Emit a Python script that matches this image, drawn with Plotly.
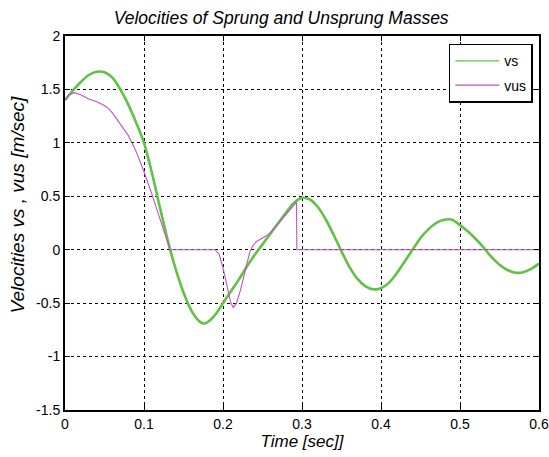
import plotly.graph_objects as go

# Sprung-mass velocity vs (m/s) over time (s)
t_vs = [0.00, 0.01, 0.02, 0.03, 0.04, 0.05, 0.06, 0.07, 0.08, 0.09,
        0.10, 0.11, 0.12, 0.13, 0.14, 0.15, 0.16, 0.17, 0.175, 0.18,
        0.19, 0.20, 0.21, 0.22, 0.23, 0.24, 0.25, 0.26, 0.27, 0.28,
        0.29, 0.30, 0.31, 0.32, 0.33, 0.34, 0.35, 0.36, 0.37, 0.38,
        0.39, 0.40, 0.41, 0.42, 0.43, 0.44, 0.45, 0.46, 0.47, 0.48,
        0.49, 0.50, 0.51, 0.52, 0.53, 0.54, 0.55, 0.56, 0.57, 0.58,
        0.59, 0.60]
vs = [1.40, 1.49, 1.57, 1.635, 1.665, 1.66, 1.61, 1.50, 1.36, 1.19,
      1.00, 0.72, 0.40, 0.09, -0.18, -0.40, -0.57, -0.67, -0.69, -0.68,
      -0.61, -0.50, -0.39, -0.28, -0.16, -0.05, 0.05, 0.15, 0.25, 0.35,
      0.44, 0.485, 0.47, 0.40, 0.285, 0.14, -0.015, -0.16, -0.27, -0.34,
      -0.37, -0.36, -0.31, -0.22, -0.11, 0.00, 0.11, 0.19, 0.25, 0.28,
      0.28, 0.23, 0.17, 0.10, 0.02, -0.07, -0.14, -0.19, -0.215, -0.21,
      -0.18, -0.13]

# Unsprung-mass velocity vus (m/s) over time (s)
t_vus = [0.000, 0.005, 0.012, 0.020, 0.030, 0.040, 0.050, 0.055, 0.060, 0.070,
         0.080, 0.090, 0.100, 0.110, 0.120, 0.128, 0.133, 0.190, 0.195, 0.200,
         0.205, 0.210, 0.213, 0.217, 0.222, 0.228, 0.234, 0.238, 0.243, 0.250,
         0.255, 0.260, 0.270, 0.280, 0.290, 0.293, 0.2935, 0.600]
vus = [1.40, 1.45, 1.47, 1.45, 1.41, 1.385, 1.35, 1.32, 1.28, 1.18,
       1.07, 0.92, 0.73, 0.52, 0.30, 0.12, 0.00, 0.00, -0.04, -0.17,
       -0.35, -0.50, -0.54, -0.50, -0.38, -0.20, -0.02, 0.04, 0.08, 0.11,
       0.13, 0.16, 0.24, 0.33, 0.42, 0.45, 0.00, 0.00]

x_ticks = [0, 0.1, 0.2, 0.3, 0.4, 0.5, 0.6]
x_tick_labels = ["0", "0.1", "0.2", "0.3", "0.4", "0.5", "0.6"]
y_ticks = [-1.5, -1, -0.5, 0, 0.5, 1, 1.5, 2]
y_tick_labels = ["-1.5", "-1", "-0.5", "0", "0.5", "1", "1.5", "2"]

FONT = "Liberation Sans, Arial, sans-serif"
GREEN = "#5fc244"
MAGENTA = "#c450c4"

fig = go.Figure()
fig.add_trace(go.Scatter(
    x=t_vs, y=vs, mode="lines", name="vs", showlegend=False,
    line=dict(color=GREEN, width=2.6, shape="spline", smoothing=0.8),
))
fig.add_trace(go.Scatter(
    x=t_vus, y=vus, mode="lines", name="vus", showlegend=False,
    line=dict(color=MAGENTA, width=1.1),
))
# thin-line legend entries
fig.add_trace(go.Scatter(x=[None], y=[None], mode="lines", name="vs",
                         legendgroup="a", line=dict(color=GREEN, width=1.2)))
fig.add_trace(go.Scatter(x=[None], y=[None], mode="lines", name="vus",
                         legendgroup="b", line=dict(color=MAGENTA, width=1.2)))

axis_common = dict(
    showline=True, linecolor="black", linewidth=2, mirror="ticks",
    ticks="inside", ticklen=5, tickwidth=1, tickcolor="black",
    showgrid=True, gridcolor="black", gridwidth=1, griddash="dot",
    zeroline=False, automargin=False,
    tickfont=dict(family=FONT, size=14, color="black"),
)

fig.update_xaxes(
    range=[0, 0.6], tickvals=x_ticks, ticktext=x_tick_labels,
    title=dict(text="Time [sec]]", standoff=1,
               font=dict(family=FONT, size=17, color="black", style="italic")),
    **axis_common,
)
fig.update_yaxes(
    range=[-1.5, 2], tickvals=y_ticks, ticktext=y_tick_labels,
    **axis_common,
)

# y-axis label, rotated, sitting slightly above the axis midpoint
fig.add_annotation(
    text="Velocities vs , vus [m/sec]", textangle=-90,
    xref="paper", yref="paper", x=-0.101, y=0.55,
    xanchor="center", yanchor="middle", showarrow=False,
    font=dict(family=FONT, size=19, color="black", style="italic"),
)

fig.update_layout(
    width=549, height=457,
    margin=dict(l=65, r=10, t=36, b=47),
    paper_bgcolor="white", plot_bgcolor="white",
    title=dict(text="Velocities of Sprung and Unsprung Masses",
               x=0.456, xref="paper", xanchor="center",
               y=1 - 18 / 457, yref="container", yanchor="middle",
               font=dict(family=FONT, size=17.5, color="black", style="italic")),
    legend=dict(x=0.987, xanchor="right", y=0.979, yanchor="top",
                bgcolor="white", bordercolor="black", borderwidth=1.5,
                itemwidth=44, traceorder="grouped", tracegroupgap=3,
                font=dict(family=FONT, size=14, color="black")),
    showlegend=True,
)

fig.write_html("out.html")
